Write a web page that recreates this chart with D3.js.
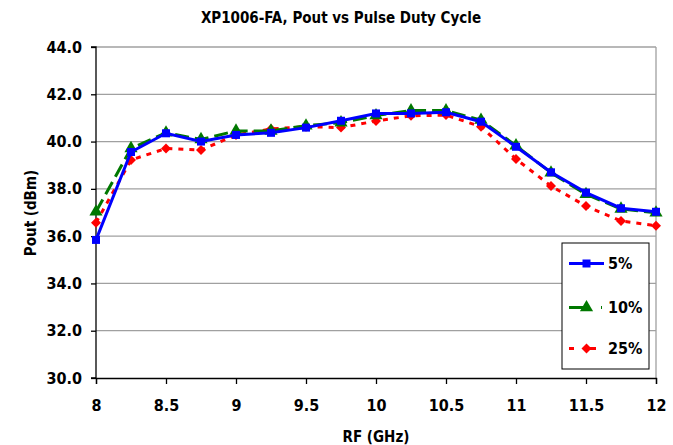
<!DOCTYPE html>
<html><head><meta charset="utf-8">
<script src="https://cdn.jsdelivr.net/npm/d3@7"></script>
<style>body{margin:0;background:#fff}svg{display:block}text{font-family:"DejaVu Sans Condensed","DejaVu Sans",sans-serif;font-weight:bold}</style>
</head><body><svg id="c" width="673" height="445"></svg>
<script>
const freqs = [8,8.25,8.5,8.75,9,9.25,9.5,9.75,10,10.25,10.5,10.75,11,11.25,11.5,11.75,12];
const pout5  = [35.84,39.56,40.35,40.0,40.28,40.37,40.59,40.88,41.19,41.19,41.24,40.84,39.78,38.70,37.84,37.18,37.03];
const pout10 = [37.03,39.71,40.37,40.09,40.45,40.45,40.67,40.80,41.10,41.31,41.31,40.91,39.83,38.68,37.77,37.15,36.99];
const pout25 = [36.57,39.22,39.71,39.64,40.28,40.53,40.63,40.59,40.87,41.09,41.12,40.63,39.26,38.12,37.27,36.64,36.44];
const xTicks = [8,8.5,9,9.5,10,10.5,11,11.5,12];
const yTicks = [30,32,34,36,38,40,42,44];
const seriesNames = ["5%","10%","25%"];
const title = "XP1006-FA, Pout vs Pulse Duty Cycle";
const xTitle = "RF (GHz)", yTitle = "Pout (dBm)";

const FONT = '"DejaVu Sans Condensed","DejaVu Sans",sans-serif';
const svg = d3.select("#c");
const L=96,R=656,T=47,B=378;
const x = d3.scaleLinear().domain([8,12]).range([L,R]);
const y = d3.scaleLinear().domain([30,44]).range([B,T]);

svg.append("g").selectAll("line").data(yTicks.filter(v=>v>30)).join("line")
  .attr("x1",L).attr("x2",R).attr("y1",d=>y(d)).attr("y2",d=>y(d))
  .attr("stroke","#a0a0a0").attr("stroke-width",1.3);
svg.append("line").attr("x1",R).attr("x2",R).attr("y1",T).attr("y2",B).attr("stroke","#a0a0a0").attr("stroke-width",1.3);

const ya = svg.append("g").attr("transform",`translate(${L},0)`)
  .call(d3.axisLeft(y).tickValues(yTicks).tickFormat(d3.format(".1f")).tickSize(5).tickPadding(9));
const xa = svg.append("g").attr("transform",`translate(0,${B})`)
  .call(d3.axisBottom(x).tickValues(xTicks).tickFormat(d=>String(d)).tickSize(6).tickPadding(16));
[ya,xa].forEach(g=>{
  g.select(".domain").attr("stroke","#000").attr("stroke-width",1.3);
  g.selectAll(".tick line").attr("stroke","#000").attr("stroke-width",1.3);
  g.selectAll("text").attr("font-size",16).attr("font-family",FONT).attr("font-weight","bold").attr("fill","#000");
});
ya.selectAll(".domain").attr("d",`M-5,${T}H0V${B}H-5`);

const line = d3.line().x((d,i)=>x(freqs[i])).y(d=>y(d));
const styles = [
  {data:pout5, color:"#0000ff", dash:null, marker:"square"},
  {data:pout10,color:"#007800", dash:"14,6", marker:"triangle"},
  {data:pout25,color:"#ff0000", dash:"5,6", marker:"diamond"}
];
const sym = {square:d3.symbolSquare, triangle:d3.symbolTriangle, diamond:d3.symbolSquare};
const size = {square:64, triangle:75, diamond:50};
const rot = {square:0, triangle:0, diamond:45};
[2,1,0].forEach(k=>{
  const s=styles[k];
  svg.append("path").datum(s.data).attr("d",line).attr("fill","none")
    .attr("stroke",s.color).attr("stroke-width",3).attr("stroke-dasharray",s.dash);
  svg.append("g").selectAll("path").data(s.data).join("path")
    .attr("transform",(d,i)=>`translate(${x(freqs[i])},${y(d)}) rotate(${rot[s.marker]})`)
    .attr("d",d3.symbol().type(sym[s.marker]).size(size[s.marker])).attr("fill",s.color);
});

const lg = svg.append("g");
lg.append("rect").attr("x",562).attr("y",243).attr("width",87).attr("height",126)
  .attr("fill","#fff").attr("stroke","#000").attr("stroke-width",1);
const ly=[263.5,307.5,348.5];
const legDash=[null,"21,11,1,20","5,10,12,20"];
styles.forEach((s,k)=>{
  lg.append("line").attr("x1",569).attr("x2",604).attr("y1",ly[k]).attr("y2",ly[k])
    .attr("stroke",s.color).attr("stroke-width",3).attr("stroke-dasharray",legDash[k]);
  lg.append("path").attr("transform",`translate(586.5,${ly[k]}) rotate(${rot[s.marker]})`)
    .attr("d",d3.symbol().type(sym[s.marker]).size(size[s.marker])).attr("fill",s.color);
  lg.append("text").attr("x",608).attr("y",ly[k]).attr("dy","0.36em").attr("font-size",16)
    .attr("font-family",FONT).text(seriesNames[k]);
});

svg.append("text").attr("x",341).attr("y",23).attr("text-anchor","middle").attr("font-size",15)
  .attr("font-family",FONT).text(title);
svg.append("text").attr("x",376).attr("y",442).attr("text-anchor","middle").attr("font-size",15)
  .attr("font-family",FONT).text(xTitle);
svg.append("text").attr("transform","translate(36,213) rotate(-90)").attr("text-anchor","middle").attr("font-size",15)
  .attr("font-family",FONT).text(yTitle);
</script></body></html>
